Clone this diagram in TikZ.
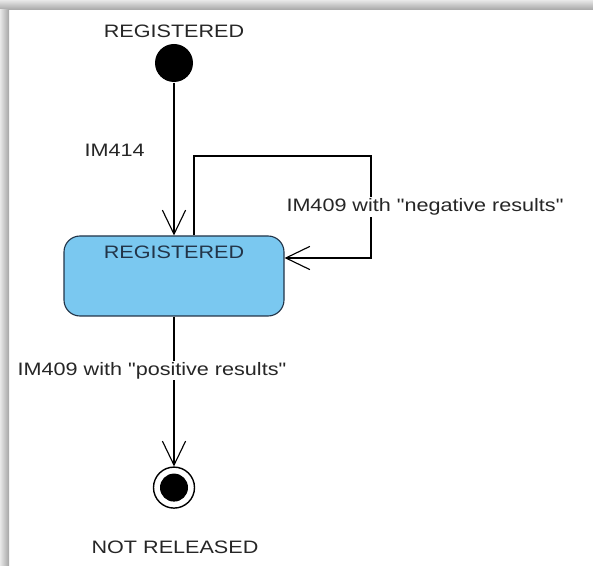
\documentclass[tikz,border=0pt]{standalone}
\usepackage{fontspec}
\setmainfont[FakeStretch=1.2, Ligatures=TeXOff]{Liberation Sans}
\usetikzlibrary{arrows.meta}

\definecolor{statefill}{RGB}{122,200,240}
\definecolor{stateline}{RGB}{34,52,72}
\definecolor{shadowdark}{RGB}{165,165,165}
\definecolor{shadowlight}{RGB}{232,232,232}

\begin{document}
\begin{tikzpicture}[every node/.style={font=\fontsize{12.8pt}{15pt}\selectfont, text=black!85},
  >={Straight Barb[length=6mm,width=5.8mm]}, line width=0.8pt]
  \useasboundingbox (0,0) rectangle (14.825,-14.15);
  \shade[top color=shadowlight, bottom color=shadowdark] (0,0) rectangle (14.825,-0.25);
  \shade[left color=shadowlight, right color=shadowdark] (0,-0.25) rectangle (0.225,-14.15);

  \node (toplbl) at (4.35,-0.775) {REGISTERED};
  \node[circle, fill=black, minimum size=0.95cm, inner sep=0pt] (init) at (4.35,-1.575) {};

  \node[draw=stateline, fill=statefill, rounded corners=0.4cm, text=stateline,
    minimum width=5.5cm, inner sep=0pt, text height=0.575cm, text depth=1.425cm] (reg)
    at (4.35,-6.9) {REGISTERED};

  \node[circle, draw, line width=1pt, minimum size=1.025cm, inner sep=0pt,
    path picture={\fill (path picture bounding box.center) circle (0.35cm);}] (final)
    at (4.35,-12.19) {};
  \node (endlbl) at (4.375,-13.675) {NOT RELEASED};

  \coordinate (loop) at (9.275,-3.9);

  \draw[->] (init) -- node[pos=0.44, left=0.6cm] {IM414} (reg.north);
  \draw[->] ([xshift=0.5cm]reg.north) |- (loop)
    |- node[pos=0.25, xshift=1.35cm, fill=white, inner sep=1pt] {IM409 with "negative results"}
    ([yshift=0.45cm]reg.east);
  \draw[->] (reg.south) -- node[pos=0.36, xshift=-0.55cm, fill=white, inner sep=1pt]
    {IM409 with "positive results"} (final.north);
\end{tikzpicture}
\end{document}
